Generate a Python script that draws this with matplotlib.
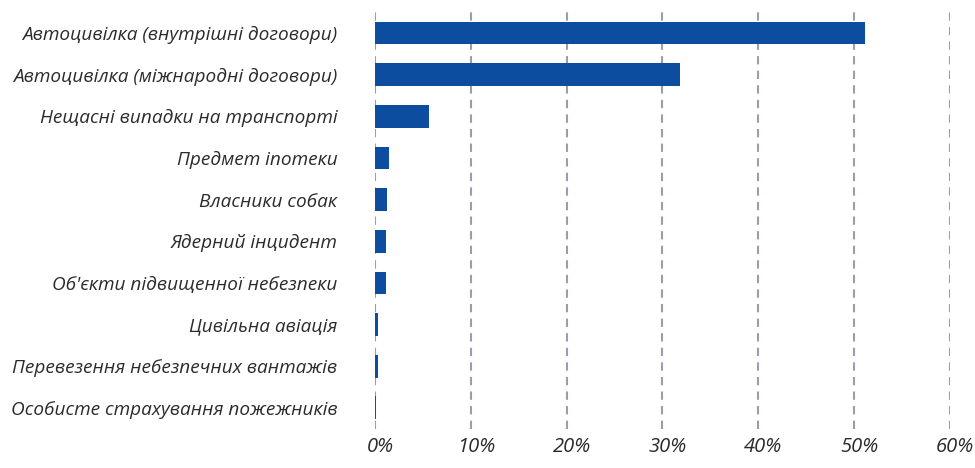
import matplotlib.pyplot as plt
import matplotlib.transforms as mtransforms
import numpy as np

categories = [
    "Автоцивілка (внутрішні договори)",
    "Автоцивілка (міжнародні договори)",
    "Нещасні випадки на транспорті",
    "Предмет іпотеки",
    "Власники собак",
    "Ядерний інцидент",
    "Об'єкти підвищенної небезпеки",
    "Цивільна авіація",
    "Перевезення небезпечних вантажів",
    "Особисте страхування пожежників",
]
shares = [51.1, 31.8, 5.6, 1.5, 1.25, 1.15, 1.15, 0.3, 0.3, 0.1]
xticks = [0, 10, 20, 30, 40, 50, 60]
xtick_labels = ["0%", "10%", "20%", "30%", "40%", "50%", "60%"]

plt.rcParams["font.family"] = ["Open Sans", "DejaVu Sans"]

fig = plt.figure(figsize=(9.75, 4.68), dpi=100)
ax = fig.add_axes([0.3846, 0.0838, 0.5897, 0.8902])

y = np.arange(len(categories))
ax.barh(y, shares, height=0.55, color="#0d4da0", zorder=3)

ax.set_xlim(0, 60)
ax.set_ylim(len(categories) - 0.5, -0.5)
ax.set_xticks(xticks)
ax.set_xticklabels(xtick_labels, fontsize=14.5, style="italic", color="#2b2b2b")
ax.set_yticks(y)
ax.set_yticklabels(categories, fontsize=13.7, style="italic", color="#2b2b2b")
ax.tick_params(axis="both", length=0)
ax.tick_params(axis="y", pad=27)
ax.tick_params(axis="x", pad=6)

# nudge the percent labels slightly to the right, like the original
shift = mtransforms.ScaledTranslation(5 / 100, 0, fig.dpi_scale_trans)
for lbl in ax.get_xticklabels():
    lbl.set_transform(lbl.get_transform() + shift)

for x in xticks:
    ax.axvline(x, color="#9e9cac", linewidth=1.5, dashes=(4, 3), zorder=1)

for s in ax.spines.values():
    s.set_visible(False)

fig.savefig("out.png", dpi=100)
